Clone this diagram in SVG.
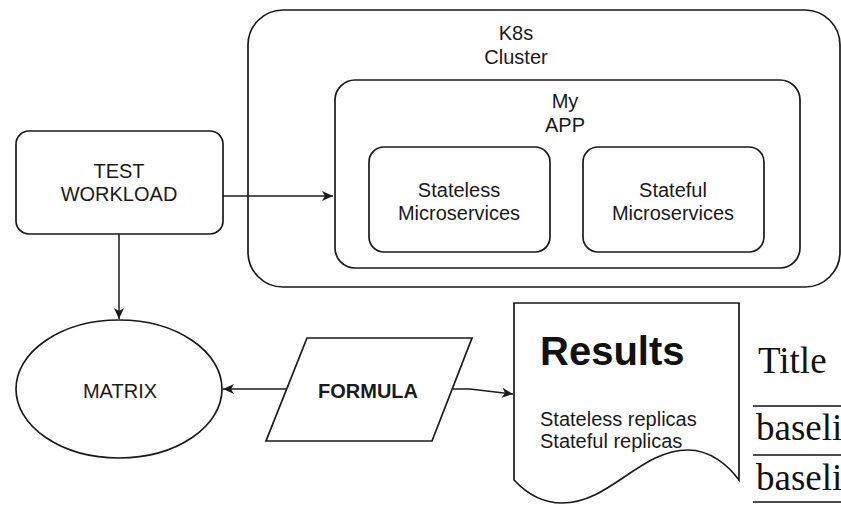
<svg xmlns="http://www.w3.org/2000/svg" width="841" height="505" viewBox="0 0 841 505">
  <style>
    .box { fill: #fff; stroke: #1a1a1a; stroke-width: 1.7; }
    .lbl { font-family: "Liberation Sans", Arial, sans-serif; font-size: 20px; fill: #1a1a1a; text-anchor: middle; }
    .bold { font-weight: bold; }
    .edge { fill: none; stroke: #1a1a1a; stroke-width: 1.5; }
    .serif { font-family: "Liberation Serif", "Times New Roman", serif; font-size: 37px; fill: #111; }
    .rule { stroke: #111; stroke-width: 1.6; }
  </style>
  <defs>
    <marker id="arrow" markerUnits="userSpaceOnUse" markerWidth="12" markerHeight="10" refX="11" refY="5" orient="auto">
      <path d="M0,0 L11,5 L0,10 L3,5 Z" fill="#1a1a1a"/>
    </marker>
  </defs>
  <rect width="841" height="505" fill="#fff"/>

  <g id="k8s-cluster">
    <rect class="box" x="248" y="10" width="592" height="277" rx="35"/>
    <text class="lbl" x="516" y="40">K8s</text>
    <text class="lbl" x="516" y="64">Cluster</text>
  </g>

  <g id="my-app">
    <rect class="box" x="335" y="80" width="465" height="188" rx="20"/>
    <text class="lbl" x="565" y="108">My</text>
    <text class="lbl" x="565" y="132">APP</text>
  </g>

  <g id="stateless">
    <rect class="box" x="369" y="147" width="181" height="105" rx="15"/>
    <text class="lbl" x="459" y="197">Stateless</text>
    <text class="lbl" x="459" y="220">Microservices</text>
  </g>

  <g id="stateful">
    <rect class="box" x="583" y="147" width="181" height="105" rx="15"/>
    <text class="lbl" x="673" y="197">Stateful</text>
    <text class="lbl" x="673" y="220">Microservices</text>
  </g>

  <g id="test-workload">
    <rect class="box" x="16" y="131" width="207" height="103" rx="13"/>
    <text class="lbl" x="119" y="178">TEST</text>
    <text class="lbl" x="119" y="201">WORKLOAD</text>
  </g>

  <g id="matrix">
    <ellipse class="box" cx="119" cy="389" rx="103" ry="69"/>
    <text class="lbl" x="120" y="398">MATRIX</text>
  </g>

  <g id="formula">
    <polygon class="box" points="307,338 472,338 432,441 266,441"/>
    <text class="lbl bold" x="368" y="398">FORMULA</text>
  </g>

  <g id="results">
    <path class="box" d="M514,303 H739 V480 C728,465 710,450 688,450 C640,450 610,503 562,503 C545,503 528,495 514,480 Z"/>
    <text x="540" y="365" font-family="Liberation Sans, Arial, sans-serif" font-size="40" font-weight="bold" fill="#111">Results</text>
    <text x="540" y="426" font-family="Liberation Sans, Arial, sans-serif" font-size="20" fill="#1a1a1a">Stateless replicas</text>
    <text x="540" y="448" font-family="Liberation Sans, Arial, sans-serif" font-size="20" fill="#1a1a1a">Stateful replicas</text>
  </g>

  <g id="connectors">
    <path class="edge" d="M223,196 H333" marker-end="url(#arrow)"/>
    <path class="edge" d="M119,234 V319" marker-end="url(#arrow)"/>
    <path class="edge" d="M286,389 H223" marker-end="url(#arrow)"/>
    <path class="edge" d="M453,389 L470,389 L513,394" marker-end="url(#arrow)"/>
  </g>

  <g id="table">
    <text class="serif" x="758" y="373">Title</text>
    <line class="rule" x1="753" y1="406" x2="841" y2="406"/>
    <text class="serif" x="756" y="440">baseli</text>
    <line class="rule" x1="753" y1="455" x2="841" y2="455"/>
    <text class="serif" x="756" y="490">baseli</text>
    <line class="rule" x1="753" y1="502" x2="841" y2="502"/>
  </g>
</svg>
